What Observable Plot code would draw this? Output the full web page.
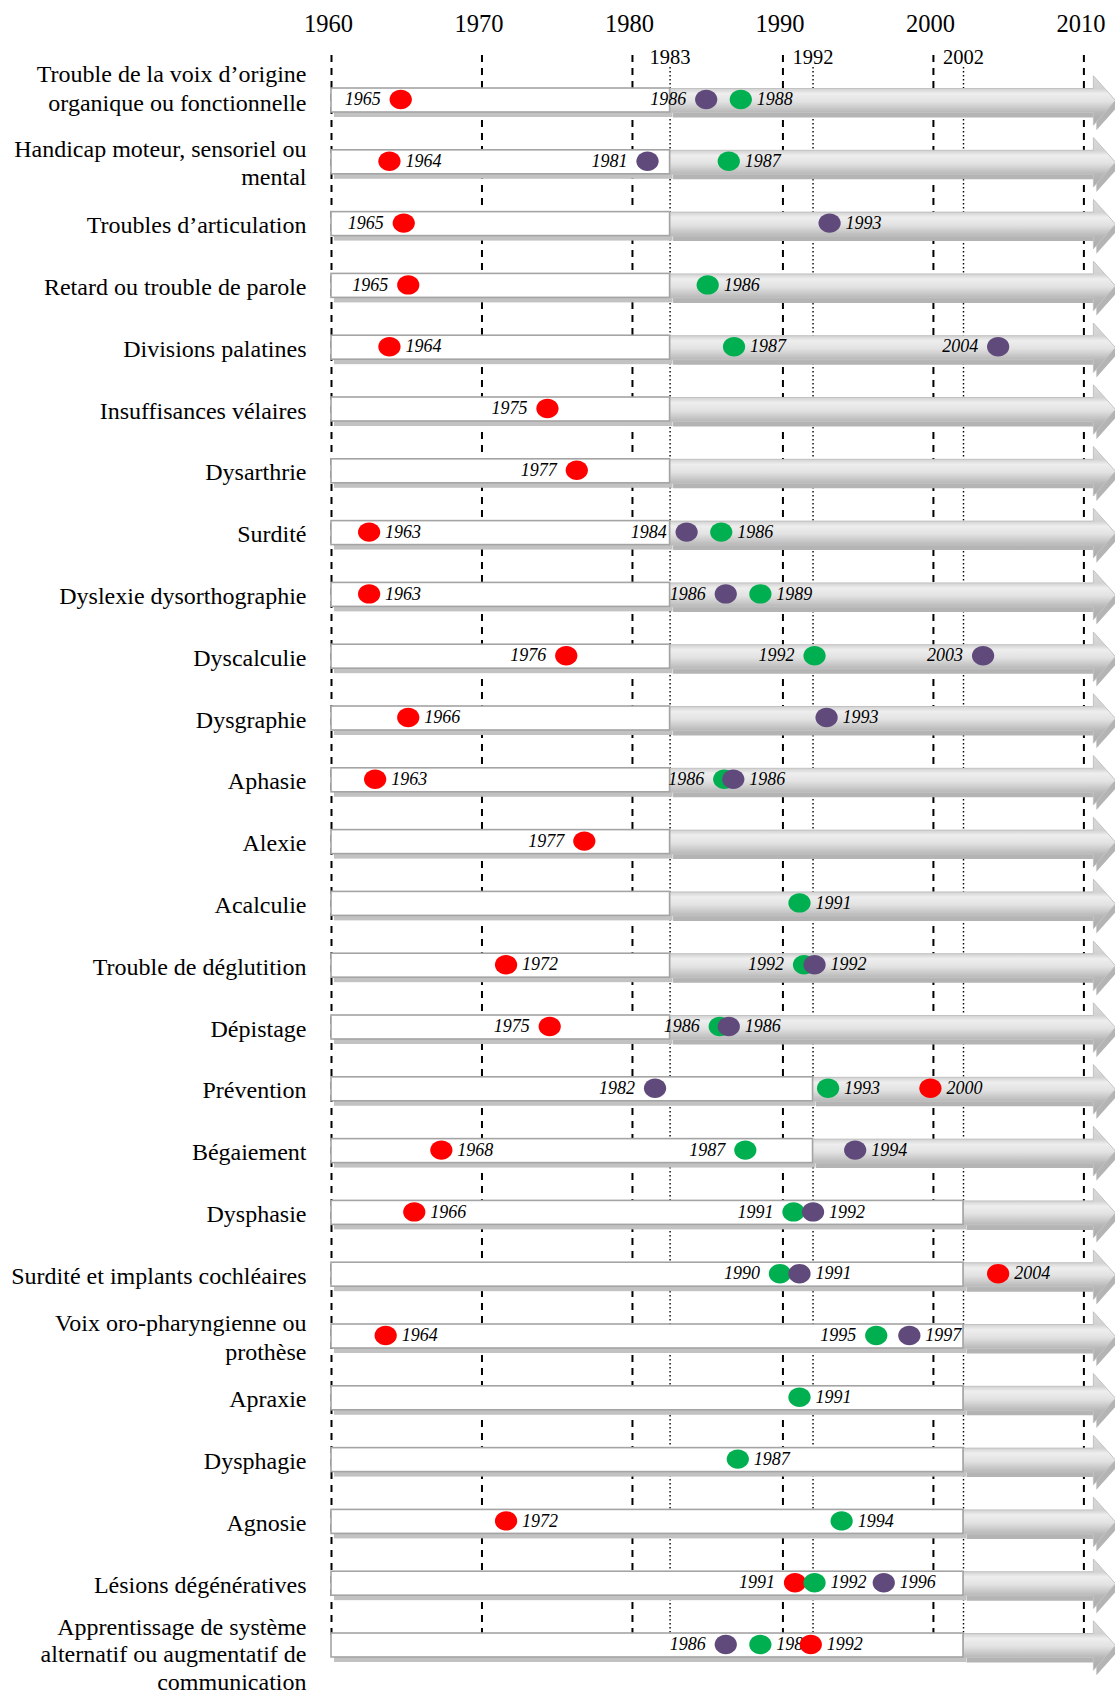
<!DOCTYPE html>
<html>
<head>
<meta charset="utf-8">
<script src="https://cdn.jsdelivr.net/npm/d3@7"></script>
<script src="https://cdn.jsdelivr.net/npm/@observablehq/plot@0.6"></script>
<style>
  html, body { margin: 0; padding: 0; background: #ffffff; }
  #chart svg { display: block; }
</style>
</head>
<body>
<div id="chart"></div>
<script>
// ---------- DATA ----------
const categories = [
  "Trouble de la voix d’origine\norganique ou fonctionnelle",
  "Handicap moteur, sensoriel ou\nmental",
  "Troubles d’articulation",
  "Retard ou trouble de parole",
  "Divisions palatines",
  "Insuffisances vélaires",
  "Dysarthrie",
  "Surdité",
  "Dyslexie dysorthographie",
  "Dyscalculie",
  "Dysgraphie",
  "Aphasie",
  "Alexie",
  "Acalculie",
  "Trouble de déglutition",
  "Dépistage",
  "Prévention",
  "Bégaiement",
  "Dysphasie",
  "Surdité et implants cochléaires",
  "Voix oro-pharyngienne ou\nprothèse",
  "Apraxie",
  "Dysphagie",
  "Agnosie",
  "Lésions dégénératives",
  "Apprentissage de système\nalternatif ou augmentatif de\ncommunication"
];

const mainTicks = [1960, 1970, 1980, 1990, 2000, 2010];
// period milestones: label and where the drawn line sits on the time axis
const periodTicks = ["1983", "1992", "2002"];
const periodTickAt = [1982.5, 1992, 2002];

// index of the milestone where the white period ends and the grey arrow begins
const periodEndIndex = [
  0, 0, 0, 0, 0, 0, 0, 0, 0, 0, 0, 0, 0,
  0, 0, 0, 1, 1, 2, 2, 2, 2, 2, 2, 2, 2
];

const timelineStart = 1960;
const arrowBodyEnd = 2010.63;
const arrowTip = 2012.1;

// [category index, labelled year, position read on the time axis, label side]
const redEvents = [
  [0, 1965, 1964.6, "L"], [1, 1964, 1963.85, "R"], [2, 1965, 1964.8, "L"],
  [3, 1965, 1965.1, "L"], [4, 1964, 1963.85, "R"], [5, 1975, 1974.35, "L"],
  [6, 1977, 1976.3, "L"], [7, 1963, 1962.5, "R"], [8, 1963, 1962.5, "R"],
  [9, 1976, 1975.6, "L"], [10, 1966, 1965.1, "R"], [11, 1963, 1962.9, "R"],
  [12, 1977, 1976.8, "L"], [14, 1972, 1971.6, "R"], [15, 1975, 1974.5, "L"],
  [16, 2000, 1999.8, "R"], [17, 1968, 1967.3, "R"], [18, 1966, 1965.5, "R"],
  [19, 2004, 2004.3, "R"], [20, 1964, 1963.6, "R"], [23, 1972, 1971.6, "R"],
  [24, 1991, 1990.8, "L"], [25, 1992, 1991.85, "R"]
];
const greenEvents = [
  [0, 1988, 1987.2, "R"], [1, 1987, 1986.4, "R"], [3, 1986, 1985.0, "R"],
  [4, 1987, 1986.75, "R"], [7, 1986, 1985.9, "R"], [8, 1989, 1988.5, "R"],
  [9, 1992, 1992.1, "L"], [11, 1986, 1986.1, "L"], [13, 1991, 1991.1, "R"],
  [14, 1992, 1991.4, "L"], [15, 1986, 1985.8, "L"], [16, 1993, 1993.0, "R"],
  [17, 1987, 1987.5, "L"], [18, 1991, 1990.7, "L"], [19, 1990, 1989.8, "L"],
  [20, 1995, 1996.2, "L"], [21, 1991, 1991.1, "R"], [22, 1987, 1987.0, "R"],
  [23, 1994, 1993.9, "R"], [24, 1992, 1992.1, "R"], [25, 1988, 1988.5, "R"]
];
const purpleEvents = [
  [0, 1986, 1984.9, "L"], [1, 1981, 1981.0, "L"], [2, 1993, 1993.1, "R"],
  [4, 2004, 2004.3, "L"], [7, 1984, 1983.6, "L"], [8, 1986, 1986.2, "L"],
  [9, 2003, 2003.3, "L"], [10, 1993, 1992.9, "R"], [11, 1986, 1986.7, "R"],
  [14, 1992, 1992.1, "R"], [15, 1986, 1986.4, "R"], [16, 1982, 1981.5, "L"],
  [17, 1994, 1994.8, "R"], [18, 1992, 1992.0, "R"], [19, 1991, 1991.1, "R"],
  [20, 1997, 1998.4, "R"], [24, 1996, 1996.7, "R"], [25, 1986, 1986.2, "L"]
];

// ---------- BUILD TABLES ----------
const rows = categories.map((label, i) => ({ i, label, end: periodTickAt[periodEndIndex[i]] }));
const periods = periodTicks.map((label, k) => ({ label, at: periodTickAt[k] }));
const toEvents = (arr, series) =>
  arr.map(([i, year, at, side]) => ({ i, year: String(year), at, side, series }));
const events = [
  ...toEvents(redEvents, "rouge"),
  ...toEvents(greenEvents, "vert"),
  ...toEvents(purpleEvents, "violet")
].sort((a, b) => a.i - b.i || a.at - b.at);

const h = 0.194;  // half bar thickness (row units)
const H = 0.40;   // half arrow-head thickness
const arrowPts = rows.flatMap(r => [
  [r.end, r.i - h], [arrowBodyEnd, r.i - h], [arrowBodyEnd, r.i - H],
  [arrowTip, r.i], [arrowBodyEnd, r.i + H], [arrowBodyEnd, r.i + h], [r.end, r.i + h]
].map(([x, y]) => ({ x, y, i: r.i })));

const ellipse = {
  draw(ctx, size) {
    const r = Math.sqrt(size / Math.PI);
    const rx = r * 1.08, ry = r * 0.94, k = 0.5523;
    ctx.moveTo(rx, 0);
    ctx.bezierCurveTo(rx, ry * k, rx * k, ry, 0, ry);
    ctx.bezierCurveTo(-rx * k, ry, -rx, ry * k, -rx, 0);
    ctx.bezierCurveTo(-rx, -ry * k, -rx * k, -ry, 0, -ry);
    ctx.bezierCurveTo(rx * k, -ry, rx, -ry * k, rx, 0);
    ctx.closePath();
  }
};

const serif = "'Liberation Serif', 'Times New Roman', serif";
const last = categories.length - 1;
const labelStyle = {
  y: "i", text: "label", frameAnchor: "left", textAnchor: "end", lineAnchor: "middle",
  dx: -25, fontFamily: serif, fontSize: 24, lineHeight: 1.17, fill: "#000"
};

const plot = Plot.plot({
  width: 1115,
  height: 1693,
  marginLeft: 331,
  marginRight: 0,
  marginTop: 55,
  marginBottom: 53,
  style: { fontFamily: serif, background: "#ffffff", overflow: "visible" },
  x: { domain: [timelineStart, arrowTip], range: [331, 1115], axis: null },
  y: { domain: [0, last], range: [100, 1645], axis: null },
  color: { domain: ["rouge", "vert", "violet"], range: ["#ff0000", "#00b050", "#604a7b"] },
  marks: [
    Plot.ruleX(mainTicks, { stroke: "#000", strokeWidth: 2, strokeDasharray: "7,6" }),
    Plot.ruleX(periods, { x: "at", stroke: "#000", strokeWidth: 1.4, strokeDasharray: "1.6,2.4", insetTop: 12 }),
    // shadows
    Plot.rect(rows, {
      x1: () => timelineStart, x2: "end", y1: d => d.i - h, y2: d => d.i + h,
      fill: "#c2c2c2", dx: 3, dy: 5
    }),
    Plot.line(arrowPts, {
      x: "x", y: "y", z: "i", curve: "linear-closed",
      fill: "#b4b4b4", stroke: "none", dx: 3, dy: 5
    }),
    // grey arrows
    Plot.line(arrowPts, {
      x: "x", y: "y", z: "i", curve: "linear-closed",
      fill: "url(#arrowGrad)", stroke: "#c2c2c2", strokeWidth: 1
    }),
    // white periods
    Plot.rect(rows, {
      x1: () => timelineStart, x2: "end", y1: d => d.i - h, y2: d => d.i + h,
      fill: "#ffffff", stroke: "#a4a4a4", strokeWidth: 1.6
    }),
    // category labels
    Plot.text(rows.filter(d => d.i > 0 && d.i < last), labelStyle),
    Plot.text(rows.filter(d => d.i === 0), { ...labelStyle, dy: -13 }),
    Plot.text(rows.filter(d => d.i === last), { ...labelStyle, dy: 8, lineHeight: 1.15 }),
    // top tick labels
    Plot.text(mainTicks, {
      x: d => d, text: d => String(d), frameAnchor: "top", lineAnchor: "middle", dy: -31, dx: -3,
      fontFamily: serif, fontSize: 24.5, fill: "#000"
    }),
    Plot.text(periods, {
      x: "at", text: "label", frameAnchor: "top", lineAnchor: "middle", dy: 2,
      fontFamily: serif, fontSize: 20.5, fill: "#000"
    }),
    // year labels
    Plot.text(events.filter(d => d.side === "L"), {
      x: "at", y: "i", text: "year", textAnchor: "end", lineAnchor: "middle", dx: -20, dy: -1,
      fontFamily: serif, fontStyle: "italic", fontSize: 18, fill: "#000"
    }),
    Plot.text(events.filter(d => d.side === "R"), {
      x: "at", y: "i", text: "year", textAnchor: "start", lineAnchor: "middle", dx: 16, dy: -1,
      fontFamily: serif, fontStyle: "italic", fontSize: 18, fill: "#000"
    }),
    // dots
    Plot.dot(events, {
      x: "at", y: "i", fill: "series", r: 10.3, symbol: ellipse, stroke: "none", dy: -1
    })
  ]
});

d3.select(plot).insert("defs", ":first-child").html(`
  <linearGradient id="arrowGrad" x1="0" y1="0" x2="0" y2="1">
    <stop offset="0" stop-color="#dadada"/>
    <stop offset="0.26" stop-color="#d2d2d2"/>
    <stop offset="0.36" stop-color="#eeeeee"/>
    <stop offset="0.52" stop-color="#e2e2e2"/>
    <stop offset="0.74" stop-color="#b8b8b8"/>
    <stop offset="1" stop-color="#a9a9a9"/>
  </linearGradient>`);

document.getElementById("chart").appendChild(plot);
</script>
</body>
</html>
